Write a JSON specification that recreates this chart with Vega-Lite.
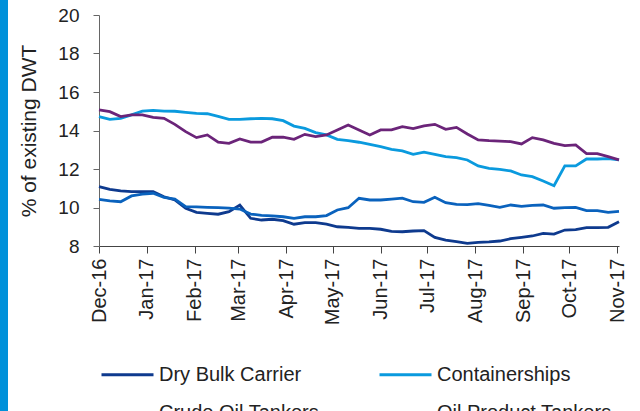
{
"$schema": "https://vega.github.io/schema/vega-lite/v6.json",
"padding": 0,
"spacing": 10,
"background": "white",
"config": {"font": "Liberation Sans", "view": {"stroke": null}},
"resolve": {"scale": {"x": "independent", "y": "independent"}},
"hconcat": [
{
"width": 8, "height": 396,
"data": {"values": [{"x0": 0, "x1": 1, "y0": 0, "y1": 411}]},
"mark": {"type": "rect", "color": "#0091da"},
"encoding": {
"x": {"field": "x0", "type": "quantitative", "scale": {"domain": [0, 1], "nice": false, "zero": false}, "axis": null},
"x2": {"field": "x1"},
"y": {"field": "y0", "type": "quantitative", "scale": {"domain": [0, 396], "nice": false, "zero": false}, "axis": null},
"y2": {"field": "y1"}
}
},
{
"width": 520, "height": 231,
"data": {"values": [
{"date":"2016-12-01","series":"Dry Bulk Carrier","value":11.08},
{"date":"2016-12-08","series":"Dry Bulk Carrier","value":10.94},
{"date":"2016-12-15","series":"Dry Bulk Carrier","value":10.86},
{"date":"2016-12-22","series":"Dry Bulk Carrier","value":10.82},
{"date":"2016-12-29","series":"Dry Bulk Carrier","value":10.82},
{"date":"2017-01-05","series":"Dry Bulk Carrier","value":10.82},
{"date":"2017-01-12","series":"Dry Bulk Carrier","value":10.56},
{"date":"2017-01-19","series":"Dry Bulk Carrier","value":10.39},
{"date":"2017-01-26","series":"Dry Bulk Carrier","value":9.96},
{"date":"2017-02-02","series":"Dry Bulk Carrier","value":9.75},
{"date":"2017-02-09","series":"Dry Bulk Carrier","value":9.70},
{"date":"2017-02-16","series":"Dry Bulk Carrier","value":9.65},
{"date":"2017-02-23","series":"Dry Bulk Carrier","value":9.78},
{"date":"2017-03-02","series":"Dry Bulk Carrier","value":10.13},
{"date":"2017-03-09","series":"Dry Bulk Carrier","value":9.44},
{"date":"2017-03-16","series":"Dry Bulk Carrier","value":9.35},
{"date":"2017-03-23","series":"Dry Bulk Carrier","value":9.39},
{"date":"2017-03-30","series":"Dry Bulk Carrier","value":9.32},
{"date":"2017-04-06","series":"Dry Bulk Carrier","value":9.13},
{"date":"2017-04-13","series":"Dry Bulk Carrier","value":9.21},
{"date":"2017-04-20","series":"Dry Bulk Carrier","value":9.21},
{"date":"2017-04-27","series":"Dry Bulk Carrier","value":9.14},
{"date":"2017-05-04","series":"Dry Bulk Carrier","value":9.00},
{"date":"2017-05-11","series":"Dry Bulk Carrier","value":8.97},
{"date":"2017-05-18","series":"Dry Bulk Carrier","value":8.92},
{"date":"2017-05-25","series":"Dry Bulk Carrier","value":8.92},
{"date":"2017-06-01","series":"Dry Bulk Carrier","value":8.87},
{"date":"2017-06-08","series":"Dry Bulk Carrier","value":8.76},
{"date":"2017-06-15","series":"Dry Bulk Carrier","value":8.74},
{"date":"2017-06-22","series":"Dry Bulk Carrier","value":8.78},
{"date":"2017-06-29","series":"Dry Bulk Carrier","value":8.80},
{"date":"2017-07-06","series":"Dry Bulk Carrier","value":8.45},
{"date":"2017-07-13","series":"Dry Bulk Carrier","value":8.31},
{"date":"2017-07-20","series":"Dry Bulk Carrier","value":8.23},
{"date":"2017-07-27","series":"Dry Bulk Carrier","value":8.14},
{"date":"2017-08-03","series":"Dry Bulk Carrier","value":8.19},
{"date":"2017-08-10","series":"Dry Bulk Carrier","value":8.21},
{"date":"2017-08-17","series":"Dry Bulk Carrier","value":8.26},
{"date":"2017-08-24","series":"Dry Bulk Carrier","value":8.38},
{"date":"2017-08-31","series":"Dry Bulk Carrier","value":8.45},
{"date":"2017-09-07","series":"Dry Bulk Carrier","value":8.52},
{"date":"2017-09-14","series":"Dry Bulk Carrier","value":8.66},
{"date":"2017-09-21","series":"Dry Bulk Carrier","value":8.62},
{"date":"2017-09-28","series":"Dry Bulk Carrier","value":8.83},
{"date":"2017-10-05","series":"Dry Bulk Carrier","value":8.85},
{"date":"2017-10-12","series":"Dry Bulk Carrier","value":8.95},
{"date":"2017-10-19","series":"Dry Bulk Carrier","value":8.95},
{"date":"2017-10-26","series":"Dry Bulk Carrier","value":8.97},
{"date":"2017-11-02","series":"Dry Bulk Carrier","value":9.26},
{"date":"2016-12-01","series":"Containerships","value":14.72},
{"date":"2016-12-08","series":"Containerships","value":14.58},
{"date":"2016-12-15","series":"Containerships","value":14.63},
{"date":"2016-12-22","series":"Containerships","value":14.81},
{"date":"2016-12-29","series":"Containerships","value":15.01},
{"date":"2017-01-05","series":"Containerships","value":15.05},
{"date":"2017-01-12","series":"Containerships","value":15.01},
{"date":"2017-01-19","series":"Containerships","value":15.00},
{"date":"2017-01-26","series":"Containerships","value":14.94},
{"date":"2017-02-02","series":"Containerships","value":14.89},
{"date":"2017-02-09","series":"Containerships","value":14.87},
{"date":"2017-02-16","series":"Containerships","value":14.73},
{"date":"2017-02-23","series":"Containerships","value":14.58},
{"date":"2017-03-02","series":"Containerships","value":14.58},
{"date":"2017-03-09","series":"Containerships","value":14.61},
{"date":"2017-03-16","series":"Containerships","value":14.63},
{"date":"2017-03-23","series":"Containerships","value":14.61},
{"date":"2017-03-30","series":"Containerships","value":14.51},
{"date":"2017-04-06","series":"Containerships","value":14.23},
{"date":"2017-04-13","series":"Containerships","value":14.11},
{"date":"2017-04-20","series":"Containerships","value":13.89},
{"date":"2017-04-27","series":"Containerships","value":13.77},
{"date":"2017-05-04","series":"Containerships","value":13.54},
{"date":"2017-05-11","series":"Containerships","value":13.47},
{"date":"2017-05-18","series":"Containerships","value":13.39},
{"date":"2017-05-25","series":"Containerships","value":13.28},
{"date":"2017-06-01","series":"Containerships","value":13.16},
{"date":"2017-06-08","series":"Containerships","value":13.02},
{"date":"2017-06-15","series":"Containerships","value":12.94},
{"date":"2017-06-22","series":"Containerships","value":12.76},
{"date":"2017-06-29","series":"Containerships","value":12.88},
{"date":"2017-07-06","series":"Containerships","value":12.76},
{"date":"2017-07-13","series":"Containerships","value":12.64},
{"date":"2017-07-20","series":"Containerships","value":12.59},
{"date":"2017-07-27","series":"Containerships","value":12.47},
{"date":"2017-08-03","series":"Containerships","value":12.16},
{"date":"2017-08-10","series":"Containerships","value":12.03},
{"date":"2017-08-17","series":"Containerships","value":11.98},
{"date":"2017-08-24","series":"Containerships","value":11.90},
{"date":"2017-08-31","series":"Containerships","value":11.69},
{"date":"2017-09-07","series":"Containerships","value":11.60},
{"date":"2017-09-14","series":"Containerships","value":11.38},
{"date":"2017-09-21","series":"Containerships","value":11.13},
{"date":"2017-09-28","series":"Containerships","value":12.16},
{"date":"2017-10-05","series":"Containerships","value":12.16},
{"date":"2017-10-12","series":"Containerships","value":12.52},
{"date":"2017-10-19","series":"Containerships","value":12.52},
{"date":"2017-10-26","series":"Containerships","value":12.54},
{"date":"2017-11-02","series":"Containerships","value":12.47},
{"date":"2016-12-01","series":"Crude Oil Tankers","value":15.07},
{"date":"2016-12-08","series":"Crude Oil Tankers","value":14.98},
{"date":"2016-12-15","series":"Crude Oil Tankers","value":14.72},
{"date":"2016-12-22","series":"Crude Oil Tankers","value":14.81},
{"date":"2016-12-29","series":"Crude Oil Tankers","value":14.81},
{"date":"2017-01-05","series":"Crude Oil Tankers","value":14.68},
{"date":"2017-01-12","series":"Crude Oil Tankers","value":14.63},
{"date":"2017-01-19","series":"Crude Oil Tankers","value":14.32},
{"date":"2017-01-26","series":"Crude Oil Tankers","value":13.94},
{"date":"2017-02-02","series":"Crude Oil Tankers","value":13.63},
{"date":"2017-02-09","series":"Crude Oil Tankers","value":13.77},
{"date":"2017-02-16","series":"Crude Oil Tankers","value":13.39},
{"date":"2017-02-23","series":"Crude Oil Tankers","value":13.33},
{"date":"2017-03-02","series":"Crude Oil Tankers","value":13.56},
{"date":"2017-03-09","series":"Crude Oil Tankers","value":13.40},
{"date":"2017-03-16","series":"Crude Oil Tankers","value":13.40},
{"date":"2017-03-23","series":"Crude Oil Tankers","value":13.65},
{"date":"2017-03-30","series":"Crude Oil Tankers","value":13.65},
{"date":"2017-04-06","series":"Crude Oil Tankers","value":13.54},
{"date":"2017-04-13","series":"Crude Oil Tankers","value":13.80},
{"date":"2017-04-20","series":"Crude Oil Tankers","value":13.68},
{"date":"2017-04-27","series":"Crude Oil Tankers","value":13.77},
{"date":"2017-05-04","series":"Crude Oil Tankers","value":14.03},
{"date":"2017-05-11","series":"Crude Oil Tankers","value":14.29},
{"date":"2017-05-18","series":"Crude Oil Tankers","value":14.03},
{"date":"2017-05-25","series":"Crude Oil Tankers","value":13.77},
{"date":"2017-06-01","series":"Crude Oil Tankers","value":14.03},
{"date":"2017-06-08","series":"Crude Oil Tankers","value":14.03},
{"date":"2017-06-15","series":"Crude Oil Tankers","value":14.20},
{"date":"2017-06-22","series":"Crude Oil Tankers","value":14.10},
{"date":"2017-06-29","series":"Crude Oil Tankers","value":14.24},
{"date":"2017-07-06","series":"Crude Oil Tankers","value":14.32},
{"date":"2017-07-13","series":"Crude Oil Tankers","value":14.06},
{"date":"2017-07-20","series":"Crude Oil Tankers","value":14.16},
{"date":"2017-07-27","series":"Crude Oil Tankers","value":13.82},
{"date":"2017-08-03","series":"Crude Oil Tankers","value":13.51},
{"date":"2017-08-10","series":"Crude Oil Tankers","value":13.47},
{"date":"2017-08-17","series":"Crude Oil Tankers","value":13.45},
{"date":"2017-08-24","series":"Crude Oil Tankers","value":13.42},
{"date":"2017-08-31","series":"Crude Oil Tankers","value":13.30},
{"date":"2017-09-07","series":"Crude Oil Tankers","value":13.63},
{"date":"2017-09-14","series":"Crude Oil Tankers","value":13.51},
{"date":"2017-09-21","series":"Crude Oil Tankers","value":13.33},
{"date":"2017-09-28","series":"Crude Oil Tankers","value":13.21},
{"date":"2017-10-05","series":"Crude Oil Tankers","value":13.25},
{"date":"2017-10-12","series":"Crude Oil Tankers","value":12.80},
{"date":"2017-10-19","series":"Crude Oil Tankers","value":12.80},
{"date":"2017-10-26","series":"Crude Oil Tankers","value":12.64},
{"date":"2017-11-02","series":"Crude Oil Tankers","value":12.47},
{"date":"2016-12-01","series":"Oil Product Tankers","value":10.42},
{"date":"2016-12-08","series":"Oil Product Tankers","value":10.34},
{"date":"2016-12-15","series":"Oil Product Tankers","value":10.30},
{"date":"2016-12-22","series":"Oil Product Tankers","value":10.60},
{"date":"2016-12-29","series":"Oil Product Tankers","value":10.70},
{"date":"2017-01-05","series":"Oil Product Tankers","value":10.74},
{"date":"2017-01-12","series":"Oil Product Tankers","value":10.53},
{"date":"2017-01-19","series":"Oil Product Tankers","value":10.44},
{"date":"2017-01-26","series":"Oil Product Tankers","value":10.04},
{"date":"2017-02-02","series":"Oil Product Tankers","value":10.03},
{"date":"2017-02-09","series":"Oil Product Tankers","value":10.01},
{"date":"2017-02-16","series":"Oil Product Tankers","value":9.99},
{"date":"2017-02-23","series":"Oil Product Tankers","value":9.97},
{"date":"2017-03-02","series":"Oil Product Tankers","value":9.92},
{"date":"2017-03-09","series":"Oil Product Tankers","value":9.66},
{"date":"2017-03-16","series":"Oil Product Tankers","value":9.59},
{"date":"2017-03-23","series":"Oil Product Tankers","value":9.56},
{"date":"2017-03-30","series":"Oil Product Tankers","value":9.52},
{"date":"2017-04-06","series":"Oil Product Tankers","value":9.44},
{"date":"2017-04-13","series":"Oil Product Tankers","value":9.52},
{"date":"2017-04-20","series":"Oil Product Tankers","value":9.52},
{"date":"2017-04-27","series":"Oil Product Tankers","value":9.58},
{"date":"2017-05-04","series":"Oil Product Tankers","value":9.87},
{"date":"2017-05-11","series":"Oil Product Tankers","value":9.99},
{"date":"2017-05-18","series":"Oil Product Tankers","value":10.48},
{"date":"2017-05-25","series":"Oil Product Tankers","value":10.39},
{"date":"2017-06-01","series":"Oil Product Tankers","value":10.39},
{"date":"2017-06-08","series":"Oil Product Tankers","value":10.44},
{"date":"2017-06-15","series":"Oil Product Tankers","value":10.49},
{"date":"2017-06-22","series":"Oil Product Tankers","value":10.30},
{"date":"2017-06-29","series":"Oil Product Tankers","value":10.27},
{"date":"2017-07-06","series":"Oil Product Tankers","value":10.53},
{"date":"2017-07-13","series":"Oil Product Tankers","value":10.25},
{"date":"2017-07-20","series":"Oil Product Tankers","value":10.16},
{"date":"2017-07-27","series":"Oil Product Tankers","value":10.15},
{"date":"2017-08-03","series":"Oil Product Tankers","value":10.20},
{"date":"2017-08-10","series":"Oil Product Tankers","value":10.11},
{"date":"2017-08-17","series":"Oil Product Tankers","value":10.01},
{"date":"2017-08-24","series":"Oil Product Tankers","value":10.13},
{"date":"2017-08-31","series":"Oil Product Tankers","value":10.06},
{"date":"2017-09-07","series":"Oil Product Tankers","value":10.11},
{"date":"2017-09-14","series":"Oil Product Tankers","value":10.13},
{"date":"2017-09-21","series":"Oil Product Tankers","value":9.96},
{"date":"2017-09-28","series":"Oil Product Tankers","value":9.99},
{"date":"2017-10-05","series":"Oil Product Tankers","value":10.01},
{"date":"2017-10-12","series":"Oil Product Tankers","value":9.84},
{"date":"2017-10-19","series":"Oil Product Tankers","value":9.84},
{"date":"2017-10-26","series":"Oil Product Tankers","value":9.75},
{"date":"2017-11-02","series":"Oil Product Tankers","value":9.80}
]},
"mark": {"type": "line", "strokeWidth": 2.8},
"encoding": {
"x": {"field": "date", "type": "temporal", "scale": {"type": "utc", "nice": false},
 "axis": {"title": null, "format": "%b-%y", "labelAngle": -90, "tickCount": {"interval": "month", "step": 1}, "labelFontSize": 20, "tickSize": 7, "labelPadding": 5, "grid": false, "domainColor": "#444", "tickColor": "#444", "labelColor": "#222", "labelFlush": false, "labelOverlap": false}},
"y": {"field": "value", "type": "quantitative", "scale": {"domain": [8, 20], "nice": false, "zero": false},
 "axis": {"title": "% of existing DWT", "values": [8, 10, 12, 14, 16, 18, 20], "labelFontSize": 19, "tickSize": 6, "labelPadding": 14, "titleFontSize": 21, "titleFontWeight": "normal", "titlePadding": 18, "grid": false, "domainColor": "#666", "tickColor": "#666", "labelColor": "#222", "titleColor": "#222"}},
"color": {"field": "series", "type": "nominal",
 "scale": {"domain": ["Dry Bulk Carrier", "Containerships", "Crude Oil Tankers", "Oil Product Tankers"], "range": ["#0e3a8e", "#0a9ade", "#6b2479", "#0a62bd"]},
 "legend": {"title": null, "orient": "none", "legendX": 100, "legendY": 332, "direction": "horizontal", "columns": 2, "columnPadding": 53, "rowPadding": -12, "symbolType": "stroke", "symbolSize": 2704, "symbolStrokeWidth": 3, "labelFontSize": 20, "labelOffset": 4, "labelColor": "#222", "padding": 0, "labelLimit": 300}}
}
}
]
}
